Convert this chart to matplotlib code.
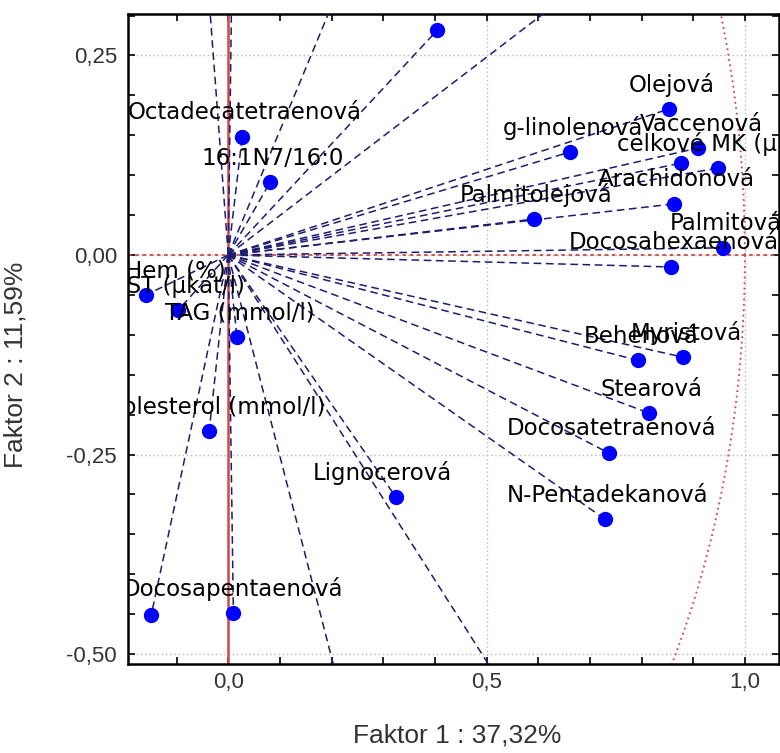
import numpy as np
import matplotlib
matplotlib.use('Agg')
import matplotlib.pyplot as plt
from matplotlib.ticker import FixedLocator, MultipleLocator, FuncFormatter

# faktorove zateze promennych (Faktor 1, Faktor 2)
names = ['', 'Octadecatetraenová', '16:1N7/16:0', 'g-linolenová', 'Olejová',
         'Vaccenová', '', 'celkové MK (μmol/l)', 'Arachidonová', 'Palmitolejová',
         'Palmitová', 'Docosahexaenová', 'Behenová', 'Myristová', 'Stearová',
         'Docosatetraenová', 'N-Pentadekanová', 'Lignocerová', 'Docosapentaenová',
         '', 'Hem (%)', 'AST (μkat/l)', 'TAG (mmol/l)', 'Cholesterol (mmol/l)',
         '', '', '', '', '', '']
f1 = [0.405, 0.027, 0.081, 0.661, 0.853,
      0.909, 0.876, 0.948, 0.862, 0.591,
      0.957, 0.857, 0.793, 0.880, 0.814,
      0.736, 0.729, 0.324, 0.010,
      -0.149, -0.159, -0.097, 0.017, -0.037,
      -0.045, 0.008, 0.250, 0.700, 0.230, 0.550]
f2 = [0.282, 0.148, 0.091, 0.129, 0.183,
      0.134, 0.115, 0.109, 0.064, 0.045,
      0.009, -0.015, -0.132, -0.128, -0.198,
      -0.248, -0.331, -0.303, -0.449,
      -0.451, -0.050, -0.069, -0.103, -0.221,
      0.390, 0.400, 0.390, 0.347, -0.580, -0.560]

# posun popisku vuci bodu (px)
label_dx = {'Hem (%)': 29, 'Lignocerová': -13, 'AST (μkat/l)': 0,
            'Docosapentaenová': 0, 'Cholesterol (mmol/l)': 0,
            'celkové MK (μmol/l)': 12}

fig = plt.figure(figsize=(7.8, 7.53), dpi=100)
ax = fig.add_axes([128/780, 1-664/753, 651/780, 650/753])

# cary z pocatku k jednotlivym bodum
for x, y in zip(f1, f2):
    ax.plot([0, x], [0, y], color='#1c1c70', lw=1.1, ls=(0, (5, 3)), zorder=3)

# jednotkova kruznice a osy
t = np.linspace(0, 2*np.pi, 721)
ax.plot(np.cos(t), np.sin(t), color='#d84040', lw=1.3, ls=(0, (1, 2)), zorder=2)
ax.axvline(0, color='#d04848', lw=1.8, zorder=2)
ax.axhline(0, color='#d04848', lw=1.3, ls=(0, (2, 2)), zorder=2)

ax.plot(f1, f2, 'o', color='#0000ff', ms=10, mec='#0000ff', zorder=5)

for n, x, y in zip(names, f1, f2):
    if not n:
        continue
    ax.annotate(n, (x, y), xytext=(label_dx.get(n, 3), 24), textcoords='offset pixels',
                ha='center', va='center', fontsize=16.5, family='DejaVu Sans',
                color='black', clip_on=True, zorder=6)

ax.set_xlim(-0.194, 1.066)
ax.set_ylim(-0.5125, 0.302)

ax.xaxis.set_major_locator(FixedLocator([0.0, 0.5, 1.0]))
ax.xaxis.set_minor_locator(MultipleLocator(0.1))
ax.yaxis.set_major_locator(FixedLocator([-0.5, -0.25, 0.0, 0.25]))
ax.yaxis.set_minor_locator(MultipleLocator(0.05))
ax.xaxis.set_major_formatter(FuncFormatter(lambda v, p: f'{v:.1f}'.replace('.', ',')))
ax.yaxis.set_major_formatter(FuncFormatter(lambda v, p: f'{v:.2f}'.replace('.', ',')))

ax.grid(True, which='major', color='#b8b8b8', ls=(0, (1, 2)), lw=1)
ax.tick_params(which='both', direction='in', top=True, right=True,
               length=5, width=1.2, color='black')
ax.tick_params(which='major', labelsize=16, labelcolor='#333333')
ax.tick_params(axis='x', which='major', pad=6)
ax.tick_params(axis='y', which='major', pad=8)
for lab in ax.get_xticklabels() + ax.get_yticklabels():
    lab.set_family('Liberation Sans')
for s in ax.spines.values():
    s.set_linewidth(1.8)

fig.text(457/780, 1-735/753, 'Faktor 1 : 37,32%', ha='center', va='center',
         fontsize=19, color='#333333', family='Liberation Sans')
fig.text(16/780, 1-365/753, 'Faktor 2 : 11,59%', ha='center', va='center',
         rotation=90, fontsize=19, color='#333333', family='Liberation Sans')

fig.savefig('out.png', dpi=100)
